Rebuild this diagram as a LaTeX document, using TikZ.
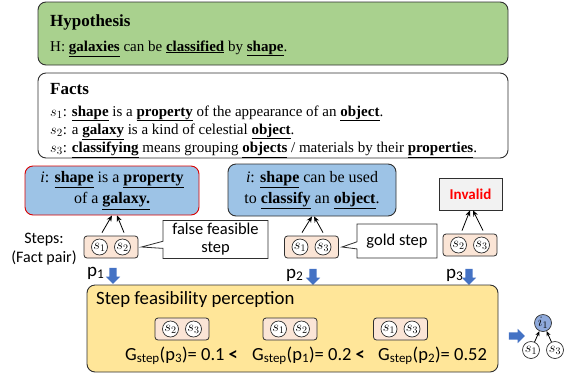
\documentclass[tikz,border=0pt]{standalone}
\usepackage{fontspec}
\setmainfont{Liberation Serif}
\newfontfamily\carl{Carlito}
\usetikzlibrary{shapes.callouts,shapes.arrows,arrows.meta}
\definecolor{hypgreen}{HTML}{A9D18E}
\definecolor{iblue}{HTML}{9DC3E6}
\definecolor{peach}{HTML}{FBE5D6}
\definecolor{yel}{HTML}{FFE699}
\definecolor{arrblue}{HTML}{4472C4}
\definecolor{nodeblue}{HTML}{8FAADC}
\definecolor{frame}{HTML}{2F2F2F}
\newcommand{\ub}[1]{\underline{\textbf{#1}}}
\tikzset{
  bigbox/.style={draw=frame, line width=0.9pt, rounded corners=8pt},
  txt/.style={anchor=base west, inner sep=0pt, font=\fontsize{15}{18}\selectfont},
  ttl/.style={anchor=base west, inner sep=0pt, font=\fontsize{17}{20}\selectfont\bfseries},
  ibox/.style={draw=frame, line width=0.9pt, rounded corners=8pt, fill=iblue, align=center, font=\fontsize{16}{21}\selectfont},
  pairbox/.style={draw=frame, line width=0.8pt, rounded corners=3pt, fill=peach, minimum width=54pt, minimum height=22pt, inner sep=0pt},
  sc/.style={circle, draw=frame, line width=0.7pt, fill=white, minimum size=16pt, inner sep=0pt, font=\fontsize{14}{14}\selectfont},
  conn/.style={-{Stealth[length=6pt,width=5pt]}, line width=0.8pt},
  callbox/.style={rectangle callout, draw=frame, line width=0.8pt, fill=white, font=\carl\fontsize{16.5}{18}\selectfont, align=center, inner sep=3pt},
  blockarr/.style={single arrow, fill=arrblue, draw=none, minimum height=16pt, single arrow head extend=3.5pt, single arrow head indent=0pt, inner sep=3.5pt},
  downarr/.style={blockarr, shape border rotate=270},
  sans/.style={font=\carl\fontsize{16}{19}\selectfont},
  gtxt/.style={anchor=base west, inner sep=0pt, font=\carl\fontsize{18.5}{20}\selectfont},
  plab/.style={anchor=base west, inner sep=0pt, font=\carl\fontsize{19}{20}\selectfont},
}
\begin{document}
\begin{tikzpicture}[x=1pt,y=-1pt]
\useasboundingbox (0,0) rectangle (567,381);
% hypothesis
\node[bigbox, fill=hypgreen, minimum width=470pt, minimum height=63pt] (hyp) at (273,33.5) {};
\node[ttl] (hyptitle) at (50,26) {Hypothesis};
\node[txt] (hyptext) at (50,51) {H: \ub{galaxies} can be \ub{classified} by \ub{shape}.};
% facts
\node[bigbox, fill=white, minimum width=470pt, minimum height=85pt] (facts) at (273,115.5) {};
\node[ttl] (factstitle) at (50,94) {Facts};
\node[txt] (f1) at (50,116) {$s_1$: \ub{shape} is a \ub{property} of the appearance of an \ub{object}.};
\node[txt] (f2) at (50,134) {$s_2$: a \ub{galaxy} is a kind of celestial \ub{object}.};
\node[txt] (f3) at (50,152.5) {$s_3$: \ub{classifying} means grouping \ub{objects} / materials by their \ub{properties}.};
% intermediate boxes
\node[ibox, draw=red!85!black, minimum width=174pt, minimum height=49pt] (i1) at (112,190.5) {\textit{i}: \ub{shape} is a \ub{property}\\of a \ub{galaxy.}};
\node[ibox, minimum width=168pt, minimum height=52pt] (i2) at (312,190) {\textit{i}: \ub{shape} can be used\\to \ub{classify} an \ub{object}.};
\node[draw=frame, line width=0.8pt, fill=black!5, minimum width=63pt, minimum height=32pt, text=red, font=\carl\bfseries\fontsize{15}{18}\selectfont] (inv) at (470.5,194) {Invalid};
% steps label
\node[sans, align=center] (steps) at (44,249) {Steps:\\(Fact pair)};
% pairs
\node[pairbox] (pb1) at (111,247) {};
\node[sc] (a1) at ([xshift=-11.5pt]pb1.center) {$s_1$};
\node[sc] (a2) at ([xshift=11.5pt]pb1.center) {$s_2$};
\node[pairbox] (pb2) at (311.5,247) {};
\node[sc] (b1) at ([xshift=-11.5pt]pb2.center) {$s_1$};
\node[sc] (b2) at ([xshift=11.5pt]pb2.center) {$s_3$};
\node[pairbox] (pb3) at (470,245) {};
\node[sc] (c1) at ([xshift=-11.5pt]pb3.center) {$s_2$};
\node[sc] (c2) at ([xshift=11.5pt]pb3.center) {$s_3$};
% connectors
\draw[conn] ([xshift=-9pt,yshift=3pt]pb1.north) -- ([xshift=0pt]i1.south);
\draw[conn] ([xshift=13pt,yshift=3pt]pb1.north) -- ([xshift=5pt]i1.south);
\draw[conn] ([xshift=-9.5pt,yshift=3pt]pb2.north) -- ([xshift=0pt]i2.south);
\draw[conn] ([xshift=11.5pt,yshift=3pt]pb2.north) -- ([xshift=2pt]i2.south);
\draw[conn] ([xshift=-8pt,yshift=3pt]pb3.north) -- ([xshift=-0.5pt]inv.south);
\draw[conn] ([xshift=13pt,yshift=3pt]pb3.north) -- ([xshift=2.5pt]inv.south);
% callouts
\node[callbox, minimum width=105pt, minimum height=35pt, callout absolute pointer={([xshift=3pt]pb1.east)}] (cf) at (215.5,239.5) {false feasible\\step};
\node[callbox, minimum width=80pt, minimum height=34pt, callout absolute pointer={([xshift=3pt]pb2.east)}] (cg) at (397,241) {gold step};
% p labels and down arrows
\node[plab] (p1) at (87,276) {p\textsubscript{1}};
\node[plab] (p2) at (286,278) {p\textsubscript{2}};
\node[plab] (p3) at (446,278) {p\textsubscript{3}};
\node[downarr] (d1) at (113,274) {};
\node[downarr] (d2) at (313,275) {};
\node[downarr] (d3) at (469,275) {};
% yellow box
\node[bigbox, fill=yel, minimum width=411pt, minimum height=87pt] (yb) at (292.5,328.5) {};
\node[anchor=base west, inner sep=0pt, font=\carl\fontsize{18.8}{20}\selectfont] (ybt) at (96,304) {Step feasibility perception};
\node[pairbox] (q1) at (182,329) {};
\node[sc] (q1a) at ([xshift=-11.5pt]q1.center) {$s_2$};
\node[sc] (q1b) at ([xshift=11.5pt]q1.center) {$s_3$};
\node[pairbox] (q2) at (290,329) {};
\node[sc] (q2a) at ([xshift=-11.5pt]q2.center) {$s_1$};
\node[sc] (q2b) at ([xshift=11.5pt]q2.center) {$s_2$};
\node[pairbox] (q3) at (400.5,329) {};
\node[sc] (q3a) at ([xshift=-11.5pt]q3.center) {$s_1$};
\node[sc] (q3b) at ([xshift=11.5pt]q3.center) {$s_3$};
\node[gtxt] (g1) at (125,360) {G\textsubscript{step}(p\textsubscript{3})= 0.1 \textbf{<}};
\node[gtxt] (g2) at (252,360) {G\textsubscript{step}(p\textsubscript{1})= 0.2 \textbf{<}};
\node[gtxt] (g3) at (378,360) {G\textsubscript{step}(p\textsubscript{2})= 0.52};
% right side tree
\node[blockarr] (ra) at (515,336) {};
\node[sc, fill=nodeblue, minimum size=17pt] (ti) at (543,323) {$i_1$};
\node[sc, minimum size=17pt] (ts1) at (531,350) {$s_1$};
\node[sc, minimum size=17pt] (ts3) at (555,350) {$s_3$};
\draw[conn, -{Stealth[length=5pt,width=4pt]}] (ts1) -- (ti);
\draw[conn, -{Stealth[length=5pt,width=4pt]}] (ts3) -- (ti);
\end{tikzpicture}
\end{document}
